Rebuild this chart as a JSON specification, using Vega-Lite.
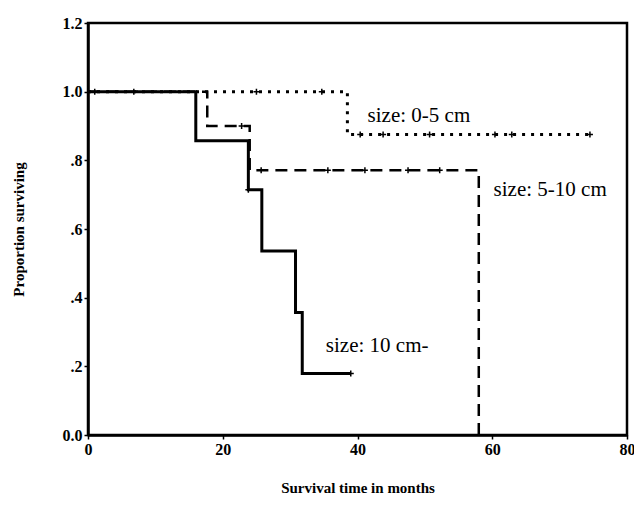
{
  "$schema": "https://vega.github.io/schema/vega-lite/v6.json",
  "autosize": "none",
  "width": 539,
  "height": 412,
  "padding": {"left": 88, "top": 23, "right": 7, "bottom": 75},
  "background": "white",
  "config": {
    "view": {"stroke": "black", "strokeWidth": 2.5},
    "font": "Liberation Serif"
  },
  "datasets": {
    "steps": [
      {"group": "0-5 cm", "t": 0, "s": 1.0},
      {"group": "0-5 cm", "t": 38.5, "s": 0.875},
      {"group": "0-5 cm", "t": 74.5, "s": 0.875},
      {"group": "5-10 cm", "t": 0, "s": 1.0},
      {"group": "5-10 cm", "t": 17.7, "s": 0.9},
      {"group": "5-10 cm", "t": 24, "s": 0.771},
      {"group": "5-10 cm", "t": 58, "s": 0.0},
      {"group": "10 cm-", "t": 0, "s": 1.0},
      {"group": "10 cm-", "t": 16, "s": 0.857},
      {"group": "10 cm-", "t": 23.8, "s": 0.714},
      {"group": "10 cm-", "t": 25.8, "s": 0.536},
      {"group": "10 cm-", "t": 30.8, "s": 0.357},
      {"group": "10 cm-", "t": 31.8, "s": 0.179},
      {"group": "10 cm-", "t": 39, "s": 0.179}
    ],
    "censored": [
      {"group": "10 cm-", "t": 1, "s": 1.0},
      {"group": "10 cm-", "t": 6.8, "s": 1.0},
      {"group": "10 cm-", "t": 23.8, "s": 0.714},
      {"group": "10 cm-", "t": 39, "s": 0.179},
      {"group": "5-10 cm", "t": 22.8, "s": 0.9},
      {"group": "5-10 cm", "t": 25.7, "s": 0.771},
      {"group": "5-10 cm", "t": 35.6, "s": 0.771},
      {"group": "5-10 cm", "t": 41.1, "s": 0.771},
      {"group": "5-10 cm", "t": 47.5, "s": 0.771},
      {"group": "5-10 cm", "t": 52.2, "s": 0.771},
      {"group": "0-5 cm", "t": 25, "s": 1.0},
      {"group": "0-5 cm", "t": 34.7, "s": 1.0},
      {"group": "0-5 cm", "t": 40.4, "s": 0.875},
      {"group": "0-5 cm", "t": 43.8, "s": 0.875},
      {"group": "0-5 cm", "t": 50.7, "s": 0.875},
      {"group": "0-5 cm", "t": 60.4, "s": 0.875},
      {"group": "0-5 cm", "t": 62.9, "s": 0.875},
      {"group": "0-5 cm", "t": 74.5, "s": 0.875}
    ],
    "labels": [
      {"label": "size: 0-5 cm", "t": 41.5, "s": 0.93},
      {"label": "size: 5-10 cm", "t": 60.2, "s": 0.715},
      {"label": "size: 10 cm-", "t": 35.3, "s": 0.258}
    ]
  },
  "encoding": {
    "x": {
      "field": "t", "type": "quantitative",
      "scale": {"domain": [0, 80], "nice": false, "zero": false},
      "axis": {
        "title": "Survival time in months",
        "values": [0, 20, 40, 60, 80],
        "grid": false,
        "domainColor": "black", "domainWidth": 2.5,
        "tickColor": "black", "tickSize": 4, "tickWidth": 1.5,
        "labelFont": "Liberation Serif", "labelFontSize": 16, "labelFontWeight": "bold", "labelColor": "black",
        "labelPadding": 2, "labelFlush": false,
        "titleFont": "Liberation Serif", "titleFontSize": 15, "titleFontWeight": "bold", "titleColor": "black",
        "titleY": 45
      }
    },
    "y": {
      "field": "s", "type": "quantitative",
      "scale": {"domain": [0, 1.2], "nice": false, "zero": false},
      "axis": {
        "title": "Proportion surviving",
        "values": [0, 0.2, 0.4, 0.6, 0.8, 1.0, 1.2],
        "labelExpr": "datum.value >= 1 || datum.value == 0 ? format(datum.value, '.1f') : substring(format(datum.value, '.1f'), 1)",
        "grid": false,
        "domainColor": "black", "domainWidth": 2.5,
        "tickColor": "black", "tickSize": 4, "tickWidth": 1.5,
        "labelFont": "Liberation Serif", "labelFontSize": 16, "labelFontWeight": "bold", "labelColor": "black",
        "labelPadding": 2, "labelFlush": false,
        "titleFont": "Liberation Serif", "titleFontSize": 15, "titleFontWeight": "bold", "titleColor": "black",
        "titleX": -70, "titleBaseline": "middle"
      }
    }
  },
  "layer": [
    {
      "data": {"name": "steps"},
      "transform": [{"filter": "datum.group == '0-5 cm'"}],
      "mark": {"type": "line", "interpolate": "step-after", "color": "black", "strokeWidth": 3, "strokeDash": [3, 6]}
    },
    {
      "data": {"name": "steps"},
      "transform": [{"filter": "datum.group == '5-10 cm'"}],
      "mark": {"type": "line", "interpolate": "step-after", "color": "black", "strokeWidth": 2.5, "strokeDash": [12, 7]}
    },
    {
      "data": {"name": "steps"},
      "transform": [{"filter": "datum.group == '10 cm-'"}],
      "mark": {"type": "line", "interpolate": "step-after", "color": "black", "strokeWidth": 3}
    },
    {
      "data": {"name": "censored"},
      "mark": {"type": "point", "shape": "M-1,0L1,0M0,-1L0,1", "size": 36, "filled": false, "stroke": "black", "strokeWidth": 1.5, "opacity": 1}
    },
    {
      "data": {"name": "labels"},
      "mark": {"type": "text", "align": "left", "baseline": "middle", "font": "Liberation Serif", "fontSize": 21, "color": "black"},
      "encoding": {"text": {"field": "label"}}
    }
  ]
}
